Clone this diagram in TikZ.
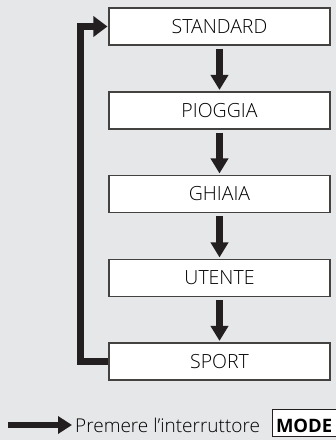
\documentclass[tikz,border=0pt]{standalone}
\usepackage{fontspec}
\setmainfont{Open Sans}
\newfontfamily\lightfont{Open Sans Light}
\usetikzlibrary{arrows.meta}
\definecolor{bg}{HTML}{E6E7E8}
\definecolor{ink}{HTML}{231F20}
\begin{document}
\begin{tikzpicture}[x=1pt,y=-1pt,
  modebox/.style={draw=ink!85, line width=1.1pt, fill=white, minimum width=221pt, minimum height=37pt, inner sep=0pt, font=\lightfont\fontsize{19.5}{21}\selectfont},
  flow/.style={draw=ink, line width=6.5pt, -{Triangle[width=17pt,length=15pt]}},
  loopline/.style={draw=ink, line width=7pt, line join=miter, -{Triangle[width=20pt,length=14pt]}}]
\fill[bg] (0,0) rectangle (336,440);
\useasboundingbox (0,0) rectangle (336,440);
\node[modebox] (s1) at (219.5,26.5) {STANDARD};
\node[modebox] (s2) at (219.5,110.5) {PIOGGIA};
\node[modebox] (s3) at (219.5,194) {GHIAIA};
\node[modebox] (s4) at (219.5,278) {UTENTE};
\node[modebox] (s5) at (219.5,361.5) {SPORT};
\foreach \a/\b in {s1/s2,s2/s3,s3/s4,s4/s5}{
  \draw[flow] ([yshift=-3pt]\a.south) -- ([yshift=1.5pt]\b.north);
}
\coordinate (lp) at (80.5,200);
\draw[loopline] (s5.west) -| (lp) |- ([xshift=-1pt]s1.west);
\coordinate (la) at (8,425);
\node[anchor=base west, inner sep=0pt, font=\lightfont\fontsize{19}{20}\selectfont] (lt) at (75,432.5) {Premere l’interruttore};
\node[anchor=base west, draw=ink, line width=1pt, fill=white, inner sep=0pt, minimum height=27pt, text depth=4pt, text height=23pt, font=\bfseries\fontsize{18.5}{20}\selectfont, align=left, text width=64pt] (md) at (271.5,432.5) {\hspace{4pt}MODE};
\draw[flow, -{Triangle[width=17pt,length=14pt]}] (la) -- ([xshift=-3pt]lt.west |- la);
\end{tikzpicture}
\end{document}
